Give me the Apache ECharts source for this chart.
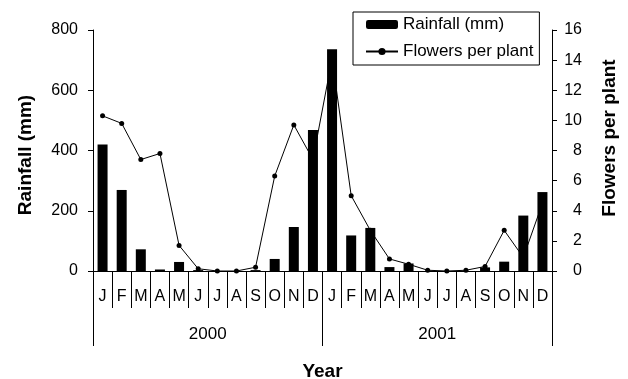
<!DOCTYPE html>
<html>
<head>
<meta charset="utf-8">
<script src="https://cdn.jsdelivr.net/npm/echarts@6/dist/echarts.min.js"></script>
<style>
html,body{margin:0;padding:0;background:#fff;}
#chart{width:628px;height:379px;}
</style>
</head>
<body>
<div id="chart"></div>
<script>
const months = ['J','F','M','A','M','J','J','A','S','O','N','D','J','F','M','A','M','J','J','A','S','O','N','D'];
const years = ['2000','2001'];
const rainfall = [420, 269, 72, 5, 30, 3, 0, 0, 3, 40, 146, 468, 736, 118, 143, 13, 25, 0, 0, 0, 12, 31, 184, 262];
const flowers = [10.3, 9.8, 7.4, 7.8, 1.7, 0.15, 0, 0, 0.25, 6.3, 9.7, 7.4, 14.1, 5.0, 2.7, 0.8, 0.45, 0.05, 0, 0.05, 0.3, 2.7, 0.9, 4.5];
const rainAxis = {min: 0, max: 800, interval: 200};
const flowerAxis = {min: 0, max: 16, interval: 2};

const FONT = 'Liberation Sans, Arial, sans-serif';
const chart = echarts.init(document.getElementById('chart'), null, {renderer: 'canvas'});
const black = '#000';
chart.setOption({
  animation: false,
  backgroundColor: '#fff',
  textStyle: {fontFamily: FONT, color: black},
  grid: {left: 93, right: 76, top: 30, bottom: 108, containLabel: false, outerBoundsMode: 'none'},
  legend: {
    orient: 'vertical', left: 353, top: 12,
    borderColor: black, borderWidth: 1,
    padding: [4, 6, 5, 12], itemGap: 10,
    itemWidth: 32, itemHeight: 9,
    textStyle: {fontSize: 17, color: black, fontFamily: FONT},
    data: ['Rainfall (mm)', 'Flowers per plant']
  },
  xAxis: [
    {
      type: 'category', data: months, position: 'bottom', boundaryGap: true,
      axisLine: {show: true, lineStyle: {color: black, width: 1}},
      axisTick: {show: true, interval: 0, alignWithLabel: false, length: 37, lineStyle: {color: black, width: 1}},
      axisLabel: {interval: 0, margin: 18, fontSize: 16, color: black, fontFamily: FONT}
    },
    {
      type: 'category', data: years, position: 'bottom', boundaryGap: true,
      axisLine: {show: false},
      axisTick: {show: true, interval: 0, length: 75, lineStyle: {color: black, width: 1}},
      axisLabel: {interval: 0, margin: 55, fontSize: 17, color: black, fontFamily: FONT},
      name: 'Year', nameLocation: 'middle', nameGap: 91,
      nameTextStyle: {fontSize: 19, fontWeight: 'bold', color: black, fontFamily: FONT}
    }
  ],
  yAxis: [
    {
      type: 'value', position: 'left', min: rainAxis.min, max: rainAxis.max, interval: rainAxis.interval,
      axisLine: {show: true, lineStyle: {color: black, width: 1}},
      axisTick: {show: true, length: 5, lineStyle: {color: black}},
      splitLine: {show: false},
      axisLabel: {margin: 15, fontSize: 16, color: black, fontFamily: FONT}
    },
    {
      type: 'value', position: 'right', min: flowerAxis.min, max: flowerAxis.max, interval: flowerAxis.interval,
      axisLine: {show: true, lineStyle: {color: black, width: 1}},
      axisTick: {show: true, length: 5, lineStyle: {color: black}},
      splitLine: {show: false},
      axisLabel: {margin: 30, align: 'right', fontSize: 16, color: black, fontFamily: FONT}
    }
  ],
  graphic: [
    {type: 'text', x: 26, y: 155, rotation: Math.PI / 2,
     style: {text: 'Rainfall (mm)', font: 'bold 19px ' + FONT, fill: black, textAlign: 'center', textVerticalAlign: 'middle'}},
    {type: 'text', x: 610, y: 138, rotation: Math.PI / 2,
     style: {text: 'Flowers per plant', font: 'bold 19px ' + FONT, fill: black, textAlign: 'center', textVerticalAlign: 'middle'}}
  ],
  series: [
    {
      type: 'bar', name: 'Rainfall (mm)', data: rainfall, xAxisIndex: 0, yAxisIndex: 0,
      barWidth: 10, itemStyle: {color: black}, z: 3
    },
    {
      type: 'line', name: 'Flowers per plant', data: flowers, xAxisIndex: 0, yAxisIndex: 1,
      symbol: 'circle', symbolSize: 5, showAllSymbol: true,
      lineStyle: {color: black, width: 1}, itemStyle: {color: black}, z: 2
    }
  ]
});
</script>
</body>
</html>
